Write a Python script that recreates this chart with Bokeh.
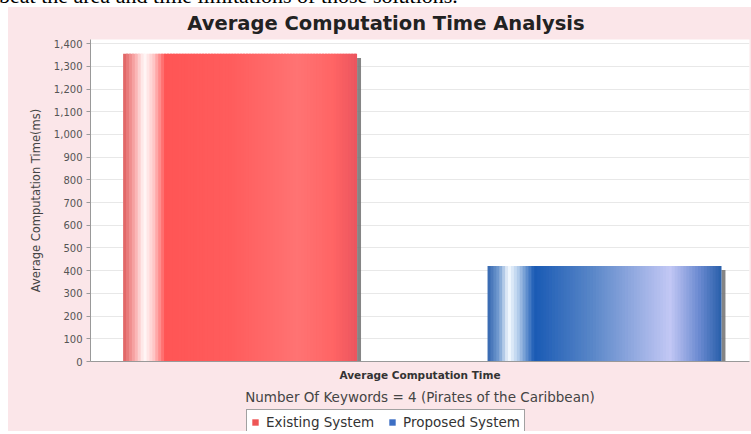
from bokeh.plotting import figure
from bokeh.models import (ColumnDataSource, Range1d, FixedTicker, NumeralTickFormatter,
                          Legend, LegendItem, Div, Spacer, Label)
from bokeh.layouts import column, row
from bokeh.embed import file_html
from bokeh.resources import INLINE

# ---- data ----
category = "Average Computation Time"
series = ["Existing System", "Proposed System"]
values = [1355, 421]
swatch_colors = ["#ee5555", "#3d6fc4"]
y_ticks = [0, 100, 200, 300, 400, 500, 600, 700, 800, 900, 1000, 1100, 1200, 1300, 1400]
title_text = "Average Computation Time Analysis"
x_axis_label = "Number Of Keywords = 4 (Pirates of the Caribbean)"
y_axis_label = "Average Computation Time(ms)"
page_text = "beat the area and time limitations of those solutions."

# ---- styles ----
gradients = [
    [(0.0, (222, 95, 95)), (0.05, (250, 170, 170)), (0.09, (255, 250, 250)), (0.13, (255, 200, 200)),
     (0.18, (255, 85, 85)), (0.45, (255, 92, 92)), (0.75, (255, 115, 115)), (0.9, (255, 100, 100)),
     (1.0, (235, 85, 95))],
    [(0.0, (50, 100, 175)), (0.05, (120, 160, 210)), (0.09, (245, 250, 255)), (0.13, (180, 205, 235)),
     (0.2, (25, 90, 180)), (0.45, (90, 135, 200)), (0.78, (195, 200, 245)), (0.9, (110, 140, 210)),
     (1.0, (40, 95, 170))],
]
N_STRIPS = 80
bar_width = 0.355
first_center = 0.227
spacing = 0.553
PINK = "#fbe6e9"
FONT = "DejaVu Sans"
W = 743
BL, BR = 82, 2


def grad_color(stops, t):
    for (t0, c0), (t1, c1) in zip(stops[:-1], stops[1:]):
        if t0 <= t <= t1:
            f = (t - t0) / (t1 - t0) if t1 > t0 else 0
            c = [int(round(a + (b - a) * f)) for a, b in zip(c0, c1)]
            return "#%02x%02x%02x" % tuple(c)
    return "#%02x%02x%02x" % stops[-1][1]


def blank_fig(h, yr):
    f = figure(width=W, height=h, output_backend="svg", toolbar_location=None,
               x_range=Range1d(0, 1), y_range=Range1d(0, yr),
               x_axis_type=None, y_axis_type=None,
               min_border_left=BL, min_border_right=BR, min_border_top=0, min_border_bottom=0,
               background_fill_color=PINK, background_fill_alpha=0.0,
               border_fill_color=PINK, outline_line_color=None)
    f.xgrid.grid_line_color = None
    f.ygrid.grid_line_color = None
    return f


# ---- title strip ----
tf = blank_fig(29, 29)
tf.add_layout(Label(x=0.4484, y=13, text=title_text, text_align="center", text_baseline="middle",
                    text_font="DejaVu Sans", text_font_size="19.5px", text_font_style="bold",
                    text_color="#222222"))

# ---- main chart ----
p = figure(width=W, height=371, output_backend="svg", toolbar_location=None,
           x_range=Range1d(0, 1), y_range=Range1d(0, 1418),
           min_border_left=BL, min_border_right=BR, min_border_top=3, min_border_bottom=46,
           background_fill_color="white", border_fill_color=PINK, outline_line_color=None)

# shadows
sh = dict(left=[], right=[], top=[], bottom=[])
for i, v in enumerate(values):
    c = first_center + i * spacing
    sh["left"].append(c + bar_width / 2)
    sh["right"].append(c + bar_width / 2 + 0.006)
    sh["top"].append(v - 18)
    sh["bottom"].append(0)
p.quad(source=ColumnDataSource(sh), left="left", right="right", top="top", bottom="bottom",
       fill_color="#707070", fill_alpha=0.85, line_color=None)

# gradient bars
strips = dict(left=[], right=[], top=[], bottom=[], color=[])
for i, v in enumerate(values):
    c = first_center + i * spacing
    x0 = c - bar_width / 2
    dw = bar_width / N_STRIPS
    for k in range(N_STRIPS):
        t = (k + 0.5) / N_STRIPS
        strips["left"].append(x0 + k * dw)
        strips["right"].append(min(x0 + (k + 1.7) * dw, x0 + bar_width))
        strips["top"].append(v)
        strips["bottom"].append(0)
        strips["color"].append(grad_color(gradients[i], t))
p.quad(source=ColumnDataSource(strips), left="left", right="right", top="top", bottom="bottom",
       fill_color="color", line_color=None)

# axes
p.yaxis.ticker = FixedTicker(ticks=y_ticks)
p.yaxis.formatter = NumeralTickFormatter(format="0,0")
p.yaxis.major_label_text_font = "DejaVu Sans"
p.yaxis.major_label_text_font_size = "10px"
p.yaxis.major_label_text_color = "#555555"
p.yaxis.major_label_standoff = 4
p.yaxis.major_tick_out = 4
p.yaxis.major_tick_in = 0
p.yaxis.minor_tick_line_color = None
p.yaxis.major_tick_line_color = "#999999"
p.yaxis.axis_line_color = "#999999"
p.yaxis.axis_label = y_axis_label
p.yaxis.axis_label_text_font = FONT
p.yaxis.axis_label_text_font_size = "11.5px"
p.yaxis.axis_label_text_font_style = "normal"
p.yaxis.axis_label_text_color = "#444444"
p.yaxis.axis_label_standoff = 8

p.xaxis.ticker = FixedTicker(ticks=[0.5])
p.xaxis.major_label_overrides = {0.5: category}
p.xaxis.major_label_text_font = "DejaVu Sans"
p.xaxis.major_label_text_font_size = "10.5px"
p.xaxis.major_label_text_font_style = "bold"
p.xaxis.major_label_text_color = "#333333"
p.xaxis.major_label_standoff = 7
p.xaxis.major_tick_out = 0
p.xaxis.major_tick_in = 0
p.xaxis.major_tick_line_color = None
p.xaxis.minor_tick_line_color = None
p.xaxis.axis_line_color = "#999999"
p.xaxis.axis_label = x_axis_label
p.xaxis.axis_label_text_font = FONT
p.xaxis.axis_label_text_font_size = "13.5px"
p.xaxis.axis_label_text_font_style = "normal"
p.xaxis.axis_label_text_color = "#444444"
p.xaxis.axis_label_standoff = 5

p.xgrid.grid_line_color = None
p.ygrid.grid_line_color = "#e8e8e8"

# ---- legend strip ----
lf = blank_fig(24, 1)
legend_items = []
for name, col in zip(series, swatch_colors):
    # swatch renderer: one square placed outside the visible range, only its legend glyph shows
    r = lf.quad(left=[5], right=[6], top=[5], bottom=[4], fill_color=col, line_color=None)
    legend_items.append(LegendItem(label=name, renderers=[r]))
legend = Legend(items=legend_items, orientation="horizontal", location=(156, -4),
                label_text_font=FONT, label_text_font_size="13.5px",
                label_text_color="#333333", glyph_width=8, glyph_height=8,
                label_standoff=7, spacing=14, padding=4, margin=0,
                border_line_color="#444444", border_line_width=1,
                background_fill_color="white", background_fill_alpha=1.0)
lf.add_layout(legend, "center")

div = Div(text=page_text, width=751, height=4,
          styles={"font-family": "Liberation Serif", "font-size": "22px", "line-height": "22px",
                  "margin-bottom": "-2px",
                  "transform": "translate(-6px, -20px)", "color": "black",
                  "white-space": "nowrap", "overflow": "visible"})

inner = column(tf, p, lf, spacing=0, styles={"background-color": PINK})
layout = column(div, row(Spacer(width=8, height=424), inner, spacing=0), spacing=0)
open("out.html", "w").write(file_html(layout, INLINE))
